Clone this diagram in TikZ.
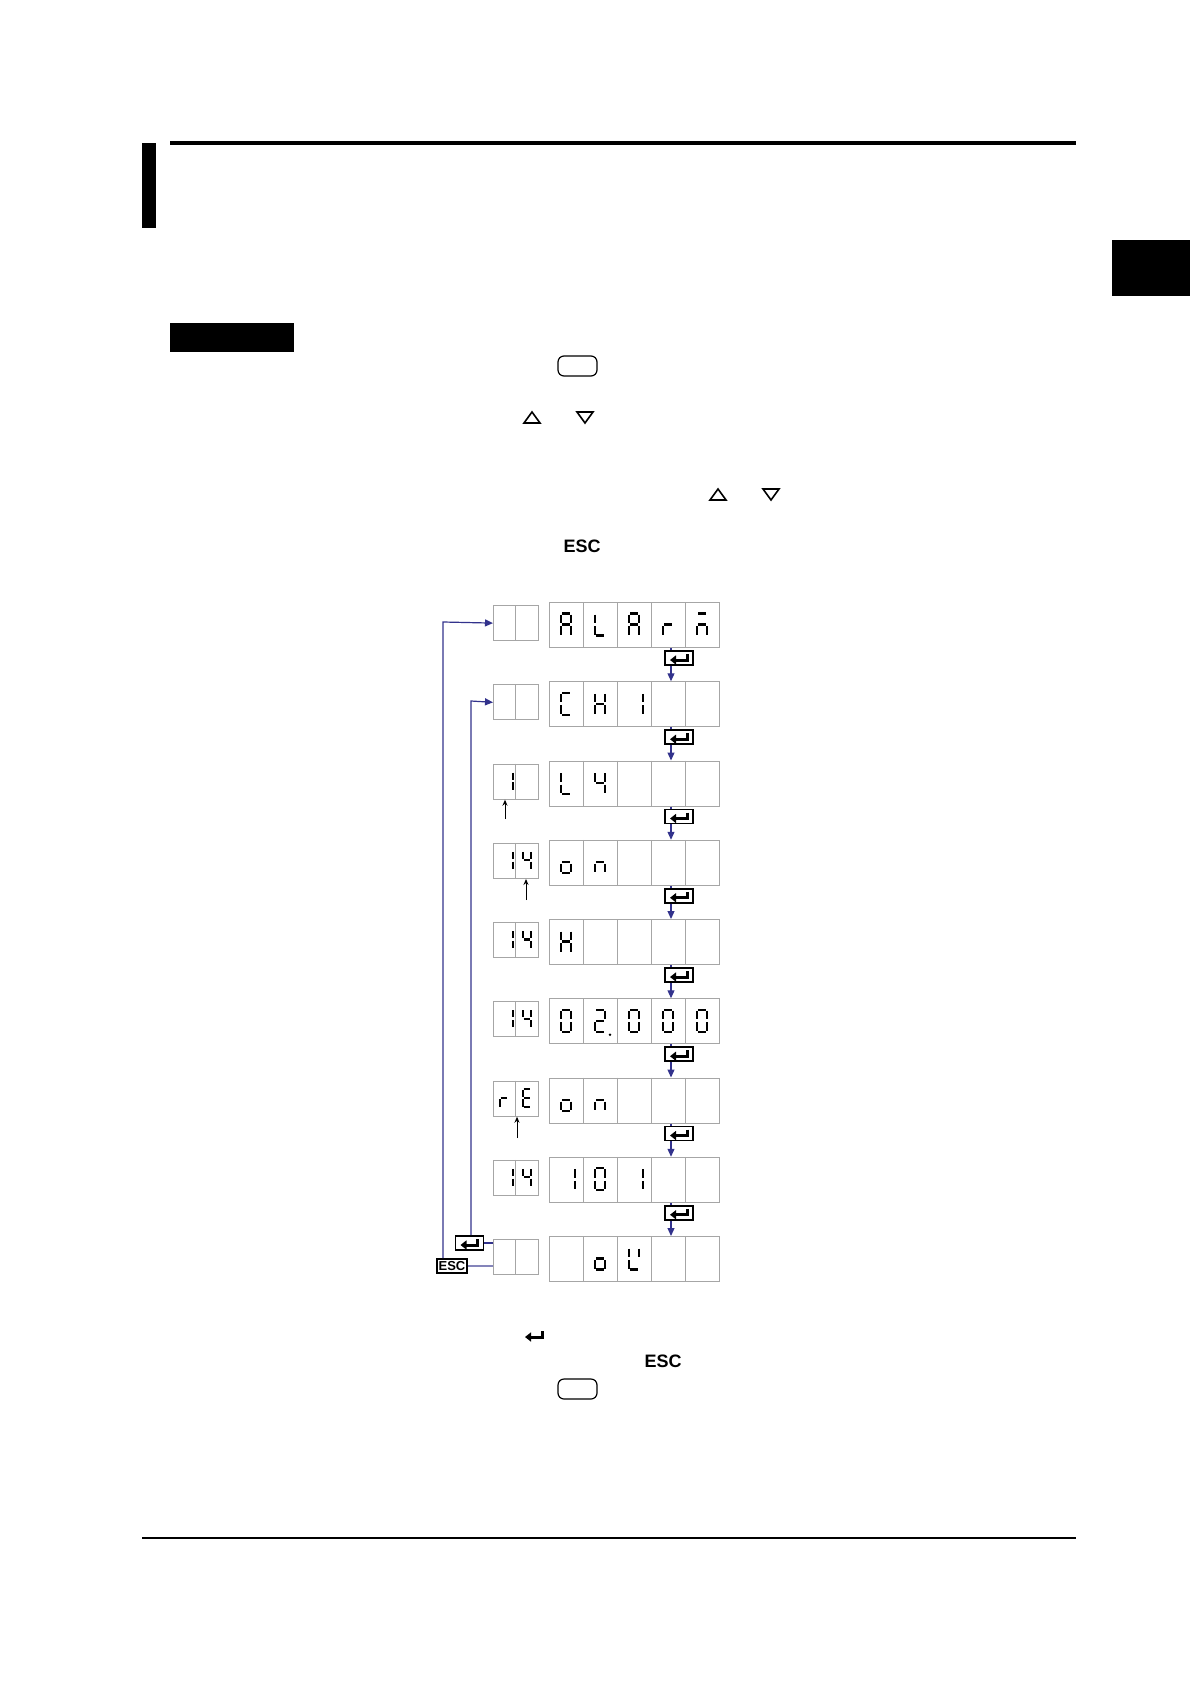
\documentclass[tikz,border=0pt]{standalone}
\usepackage{fontspec}
\setmainfont{Liberation Sans}
\usetikzlibrary{arrows.meta}
\definecolor{navy}{RGB}{50,50,140}
\newcommand\segA{\draw[seg] (-4,-11)--(4,-11);}
\newcommand\segB{\draw[seg] (5,-10)--(5,-1.5);}
\newcommand\segC{\draw[seg] (5,1.5)--(5,10);}
\newcommand\segD{\draw[seg] (-4,11)--(4,11);}
\newcommand\segE{\draw[seg] (-5,1.5)--(-5,10);}
\newcommand\segF{\draw[seg] (-5,-10)--(-5,-1.5);}
\newcommand\segG{\draw[seg] (-4,0)--(4,0);}
\newcommand\digit[3]{\begin{scope}[shift={(#1,#2)}]\foreach \s in {#3}{\csname seg\s\endcsname}\end{scope}}
\newcommand\sdigit[3]{\begin{scope}[shift={(#1,#2)},scale=0.85]\foreach \s in {#3}{\csname seg\s\endcsname}\end{scope}}
\newcommand\enticon[1]{\draw[entarrow] ([shift={(8,-4)}]#1) -- ([shift={(8,2)}]#1) -- ([shift={(-9,2)}]#1);}
\begin{document}
\begin{tikzpicture}[x=0.5pt,y=-0.5pt,
  seg/.style={line width=1.1pt,line cap=butt},
  cellbox/.style={draw=gray!70,line width=0.6pt},
  conn/.style={draw=navy,line width=0.6pt},
  connarr/.style={conn,-{Triangle[length=4pt,width=3.5pt]}},
  entbox/.style={draw,line width=0.8pt,minimum width=14pt,minimum height=7pt,inner sep=0pt},
  entarrow/.style={line width=1.5pt,-{Triangle[length=3pt,width=4.5pt]}},
  upar/.style={line width=0.5pt,-{Stealth[length=3pt,width=2.5pt]}}]
\useasboundingbox (0,0) rectangle (1190,1684);
% page decorations
\draw[line width=2pt] (170,143) -- (1076,143);
\fill (142,143) rectangle (156,228);
\fill (1112,240) rectangle (1190,296);
\fill (170,323) rectangle (294,352);
\draw[line width=0.6pt,rounded corners=3pt] (558,356) rectangle (597,376);
\draw[line width=0.8pt] (524,423) -- (532,412) -- (540,423) -- cycle;
\draw[line width=0.8pt] (577,412) -- (585,423) -- (593,412) -- cycle;
\draw[line width=0.8pt] (710,500) -- (718,489) -- (726,500) -- cycle;
\draw[line width=0.8pt] (763,489) -- (771,500) -- (779,489) -- cycle;
\node[font=\bfseries\fontsize{9}{10}\selectfont] (esc1) at (582,546) {ESC};
\coordinate (ei) at (534,1335);
\enticon{ei}
\node[font=\bfseries\fontsize{9}{10}\selectfont] (esc2) at (663,1361) {ESC};
\draw[line width=0.6pt,rounded corners=3pt] (558,1379) rectangle (597,1399);
\draw[line width=0.6pt] (142,1538) -- (1076,1538);
% rows
\foreach \r in {1,...,9}{
  \pgfmathsetmacro\yt{602+79.25*(\r-1)}
  \node[cellbox,minimum width=85pt,minimum height=22.5pt,inner sep=0pt,anchor=north west] (m\r) at (549,\yt) {};
  \foreach \k in {1,...,4}{\draw[cellbox] (549+34.2*\k,\yt) -- ++(0,45);}
  \node[cellbox,minimum width=22.5pt,minimum height=17.5pt,inner sep=0pt,anchor=north west] (s\r) at (493,\yt+3) {};
  \draw[cellbox] (515.5,\yt+3) -- ++(0,35);
}
\foreach \r [evaluate=\r as \n using int(\r+1)] in {1,...,8}{
  \pgfmathsetmacro\ye{602+79.25*(\r-1)+56}
  \node[entbox] (e\r) at (679,\ye) {};
  \enticon{e\r.center}
  \draw[conn] (671,0 |- m\r.south) -- (671,0 |- e\r.north);
  \draw[connarr] (671,0 |- e\r.south) -- (671,0 |- m\n.north);
}
% digits: main col centers 566,600,634,668,702 ; small 504,527
\def\A{A,B,C,E,F,G}
\newcommand\rowc[1]{\pgfmathsetmacro\yc{602+79.25*(#1-1)+22.5}}
\rowc{1}
\digit{566}{\yc}{A,B,C,E,F,G}\digit{600}{\yc}{D,E,F}\digit{634}{\yc}{A,B,C,E,F,G}
\digit{668}{\yc}{E,G}\digit{702}{\yc}{A,C,E,G}
\rowc{2}
\digit{566}{\yc}{A,D,E,F}\digit{600}{\yc}{B,C,E,F,G}\digit{638}{\yc}{B,C}
\rowc{3}
\sdigit{509}{\yc-2}{B,C}
\digit{566}{\yc}{D,E,F}\digit{600}{\yc}{B,C,F,G}
\rowc{4}
\sdigit{509}{\yc-2}{B,C}\sdigit{527}{\yc-2}{B,C,F,G}
\digit{566}{\yc}{C,D,E,G}\digit{600}{\yc}{C,E,G}
\rowc{5}
\sdigit{509}{\yc-2}{B,C}\sdigit{527}{\yc-2}{B,C,F,G}
\digit{566}{\yc}{B,C,E,F,G}
\rowc{6}
\sdigit{509}{\yc-2}{B,C}\sdigit{527}{\yc-2}{B,C,F,G}
\digit{566}{\yc}{A,B,C,D,E,F}\digit{600}{\yc}{A,B,D,E,G}\digit{634}{\yc}{A,B,C,D,E,F}
\digit{668}{\yc}{A,B,C,D,E,F}\digit{702}{\yc}{A,B,C,D,E,F}
\fill (610,\yc+14) circle (1.3);
\rowc{7}
\sdigit{504}{\yc-2}{E,G}\sdigit{527}{\yc-2}{A,D,E,F,G}
\digit{566}{\yc}{C,D,E,G}\digit{600}{\yc}{C,E,G}
\rowc{8}
\sdigit{509}{\yc-2}{B,C}\sdigit{527}{\yc-2}{B,C,F,G}
\digit{570}{\yc}{B,C}\digit{600}{\yc}{A,B,C,D,E,F}\digit{638}{\yc}{B,C}
\rowc{9}
\digit{600}{\yc}{C,D,E,G}\digit{634}{\yc}{B,D,E,F}
% small up arrows
\coordinate (u3) at (505,819); \draw[upar] (u3) -- (s3.south -| u3);
\coordinate (u4) at (526,900); \draw[upar] (u4) -- (s4.south -| u4);
\coordinate (u7) at (517,1138); \draw[upar] (u7) -- (s7.south -| u7);
% left return loops
\node[entbox] (eb) at (469.5,1243) {};
\enticon{eb.center}
\node[entbox,font=\bfseries\fontsize{6.5}{7}\selectfont,minimum width=15pt,inner sep=0.5pt] (escb) at (452,1266) {ESC};
\draw[conn] (eb.east) -- (s9.west |- eb.east);
\draw[draw=navy!60,line width=0.6pt] (escb.east) -- (s9.west |- escb.east);
\draw[connarr] (escb.north -| 443,0) -- (443,622) -- (s1.west);
\draw[connarr] (eb.north -| 471,0) -- (471,701) -- (s2.west);
\end{tikzpicture}
\end{document}
